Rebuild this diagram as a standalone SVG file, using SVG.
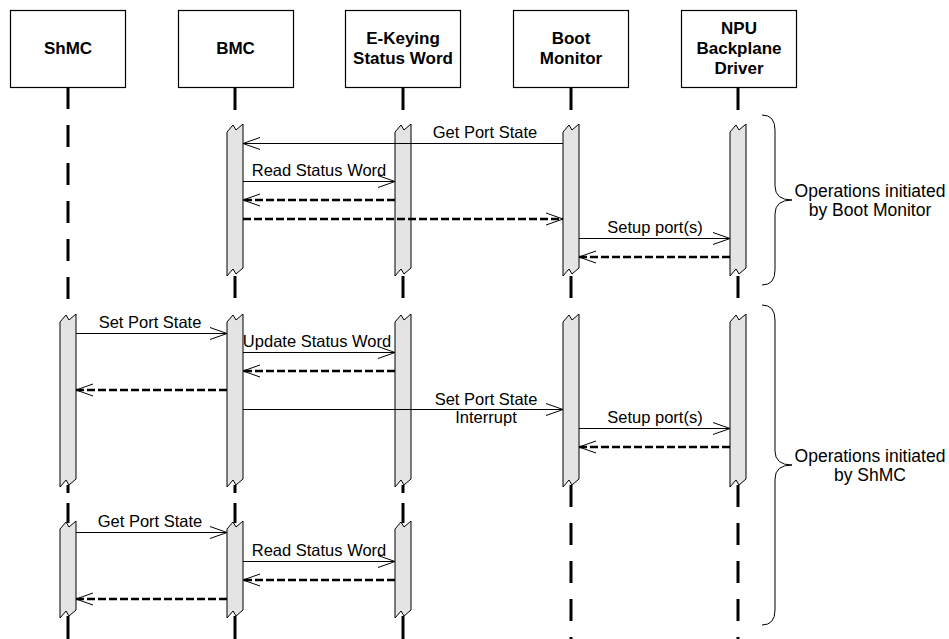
<svg xmlns="http://www.w3.org/2000/svg" width="949" height="639" viewBox="0 0 949 639">
  <style>
    .box { fill: #ffffff; stroke: #000000; stroke-width: 1.2; }
    .head { font-family: "Liberation Sans", Arial, sans-serif; font-weight: bold; font-size: 17px; text-anchor: middle; fill: #000000; }
    .life { stroke: #000000; stroke-width: 3; fill: none; }
    .dash { stroke-dasharray: 22 16; }
    .bar { fill: #e4e4e4; stroke: #000000; stroke-width: 1; stroke-linejoin: miter; }
    .msg { stroke: #000000; stroke-width: 1; fill: none; marker-end: url(#open); }
    .ret { stroke: #000000; stroke-width: 2.6; fill: none; stroke-dasharray: 8 3; marker-end: url(#open); }
    .lbl { font-family: "Liberation Sans", Arial, sans-serif; font-size: 16.5px; text-anchor: middle; fill: #000000; }
    .note { font-family: "Liberation Sans", Arial, sans-serif; font-size: 17.5px; text-anchor: middle; fill: #000000; }
    .brace { stroke: #000000; stroke-width: 1; fill: none; }
  </style>
  <defs>
    <!-- open V arrowhead, fixed size regardless of line width -->
    <marker id="open" markerUnits="userSpaceOnUse" viewBox="-19 -8 21 16" markerWidth="21" markerHeight="16" refX="0" refY="0" orient="auto">
      <path d="M-17,-6 L0,0 L-17,6" fill="none" stroke="#000000" stroke-width="1"/>
    </marker>
  </defs>

  <rect width="949" height="639" fill="#ffffff"/>

  <!-- ShMC -->
  <g id="shmc">
    <rect class="box" x="10.5" y="10.5" width="115" height="77"/>
    <text class="head" x="68" y="54">ShMC</text>
    <line class="life dash" x1="68" y1="87" x2="68" y2="314"/>
    <path class="bar" d="M60,322 L66,315 L69,320 L76,314 L76,479 L69,485 L66,480 L60,487 Z"/>
    <line class="life" x1="68" y1="485" x2="68" y2="493"/>
    <line class="life" x1="68" y1="503" x2="68" y2="523"/>
    <path class="bar" d="M60,529 L66,522 L69,527 L76,521 L76,610 L69,616 L66,611 L60,618 Z"/>
    <line class="life" x1="68" y1="616" x2="68" y2="639"/>
  </g>

  <!-- BMC -->
  <g id="bmc">
    <rect class="box" x="178.5" y="10.5" width="115" height="77"/>
    <text class="head" x="235.5" y="54">BMC</text>
    <line class="life" x1="235" y1="87" x2="235" y2="110"/>
    <path class="bar" d="M227,132 L233,125 L236,130 L243,124 L243,268 L236,274 L233,269 L227,276 Z"/>
    <line class="life dash" x1="235" y1="276" x2="235" y2="314"/>
    <path class="bar" d="M227,322 L233,315 L236,320 L243,314 L243,479 L236,485 L233,480 L227,487 Z"/>
    <line class="life" x1="235" y1="485" x2="235" y2="493"/>
    <line class="life" x1="235" y1="503" x2="235" y2="523"/>
    <path class="bar" d="M227,529 L233,522 L236,527 L243,521 L243,610 L236,616 L233,611 L227,618 Z"/>
    <line class="life" x1="235" y1="616" x2="235" y2="639"/>
  </g>

  <!-- E-Keying Status Word -->
  <g id="ekeying">
    <rect class="box" x="345.5" y="10.5" width="115" height="77"/>
    <text class="head" x="403" y="44">E-Keying</text>
    <text class="head" x="403" y="64">Status Word</text>
    <line class="life" x1="403" y1="87" x2="403" y2="110"/>
    <path class="bar" d="M395,132 L401,125 L404,130 L411,124 L411,268 L404,274 L401,269 L395,276 Z"/>
    <line class="life dash" x1="403" y1="276" x2="403" y2="314"/>
    <path class="bar" d="M395,322 L401,315 L404,320 L411,314 L411,479 L404,485 L401,480 L395,487 Z"/>
    <line class="life" x1="403" y1="485" x2="403" y2="493"/>
    <line class="life" x1="403" y1="503" x2="403" y2="523"/>
    <path class="bar" d="M395,529 L401,522 L404,527 L411,521 L411,610 L404,616 L401,611 L395,618 Z"/>
    <line class="life" x1="403" y1="616" x2="403" y2="639"/>
  </g>

  <!-- Boot Monitor -->
  <g id="bootmon">
    <rect class="box" x="513.5" y="10.5" width="115" height="77"/>
    <text class="head" x="571" y="44">Boot</text>
    <text class="head" x="571" y="64">Monitor</text>
    <line class="life" x1="571" y1="87" x2="571" y2="110"/>
    <path class="bar" d="M563,132 L569,125 L572,130 L579,124 L579,268 L572,274 L569,269 L563,276 Z"/>
    <line class="life dash" x1="571" y1="276" x2="571" y2="314"/>
    <path class="bar" d="M563,322 L569,315 L572,320 L579,314 L579,479 L572,485 L569,480 L563,487 Z"/>
    <line class="life dash" x1="571" y1="485" x2="571" y2="639"/>
  </g>

  <!-- NPU Backplane Driver -->
  <g id="npu">
    <rect class="box" x="681.5" y="10.5" width="115" height="77"/>
    <text class="head" x="739" y="34">NPU</text>
    <text class="head" x="739" y="54">Backplane</text>
    <text class="head" x="739" y="74">Driver</text>
    <line class="life" x1="738" y1="87" x2="738" y2="110"/>
    <path class="bar" d="M730,132 L736,125 L739,130 L746,124 L746,268 L739,274 L736,269 L730,276 Z"/>
    <line class="life dash" x1="738" y1="276" x2="738" y2="314"/>
    <path class="bar" d="M730,322 L736,315 L739,320 L746,314 L746,479 L739,485 L736,480 L730,487 Z"/>
    <line class="life dash" x1="738" y1="485" x2="738" y2="639"/>
  </g>

  <!-- messages -->
  <g id="connectors">
    <!-- initiated by Boot Monitor -->
    <line class="msg" x1="563" y1="143.5" x2="243" y2="143.5"/>
    <text class="lbl" x="485" y="138">Get Port State</text>
    <line class="msg" x1="243" y1="181.5" x2="395" y2="181.5"/>
    <text class="lbl" x="319" y="176">Read Status Word</text>
    <line class="ret" x1="395" y1="200" x2="243" y2="200"/>
    <line class="ret" x1="243" y1="219" x2="563" y2="219"/>
    <line class="msg" x1="579" y1="238.5" x2="730" y2="238.5"/>
    <text class="lbl" x="655" y="233">Setup port(s)</text>
    <line class="ret" x1="730" y1="257" x2="579" y2="257"/>

    <!-- initiated by ShMC: set -->
    <line class="msg" x1="76" y1="333.5" x2="227" y2="333.5"/>
    <text class="lbl" x="150" y="328">Set Port State</text>
    <line class="msg" x1="243" y1="352.5" x2="395" y2="352.5"/>
    <text class="lbl" x="317" y="347">Update Status Word</text>
    <line class="ret" x1="395" y1="371" x2="243" y2="371"/>
    <line class="ret" x1="227" y1="390" x2="76" y2="390"/>
    <line class="msg" x1="243" y1="409.5" x2="563" y2="409.5"/>
    <text class="lbl" x="486" y="405">Set Port State</text>
    <text class="lbl" x="486" y="423">Interrupt</text>
    <line class="msg" x1="579" y1="428.5" x2="730" y2="428.5"/>
    <text class="lbl" x="655" y="423">Setup port(s)</text>
    <line class="ret" x1="730" y1="447" x2="579" y2="447"/>

    <!-- initiated by ShMC: get -->
    <line class="msg" x1="76" y1="532.5" x2="227" y2="532.5"/>
    <text class="lbl" x="150" y="527">Get Port State</text>
    <line class="msg" x1="243" y1="561.5" x2="395" y2="561.5"/>
    <text class="lbl" x="319" y="556">Read Status Word</text>
    <line class="ret" x1="395" y1="580" x2="243" y2="580"/>
    <line class="ret" x1="227" y1="599" x2="76" y2="599"/>
  </g>

  <!-- grouping braces -->
  <g id="brace-bootmon">
    <path class="brace" d="M762,115 Q775,115 775,130 L775,186 Q775,200 792,200 Q775,200 775,214 L775,270 Q775,285 762,285"/>
    <text class="note" x="870" y="197">Operations initiated</text>
    <text class="note" x="870" y="216">by Boot Monitor</text>
  </g>
  <g id="brace-shmc">
    <path class="brace" d="M762,305 Q775,305 775,320 L775,451 Q775,465 792,465 Q775,465 775,479 L775,610 Q775,625 762,625"/>
    <text class="note" x="870" y="462">Operations initiated</text>
    <text class="note" x="870" y="481">by ShMC</text>
  </g>
</svg>
